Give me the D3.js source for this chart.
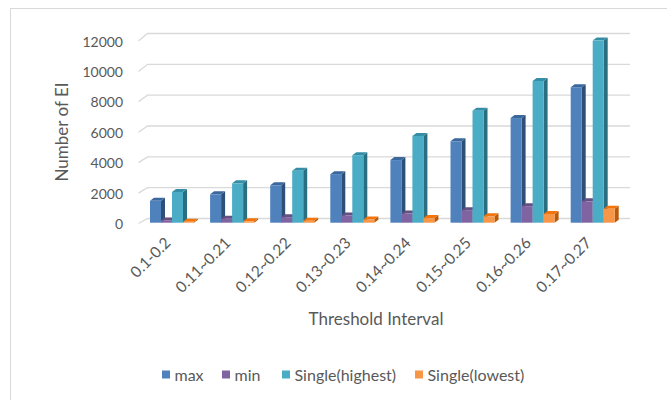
<!DOCTYPE html>
<html>
<head>
<meta charset="utf-8">
<script src="https://cdn.jsdelivr.net/npm/d3@7"></script>
<style>
  html, body { margin: 0; padding: 0; background: #fff; }
  svg { display: block; }
  text { font-family: Lato, "Open Sans", sans-serif; fill: #595959; }
</style>
</head>
<body>
<svg id="chart" width="667" height="400"></svg>
<script>
// Threshold intervals along the x axis
const categories = ["0.1-0.2", "0.11~0.21", "0.12~0.22", "0.13~0.23", "0.14~0.24", "0.15~0.25", "0.16~0.26", "0.17~0.27"];
const seriesNames = ["max", "min", "Single(highest)", "Single(lowest)"];
const maxValues = [1430, 1860, 2450, 3180, 4100, 5330, 6850, 8870];
const minValues = [150, 260, 360, 470, 600, 820, 1080, 1400];
const singleHighest = [2010, 2580, 3400, 4420, 5680, 7330, 9280, 11920];
const singleLowest = [60, 90, 120, 210, 300, 420, 570, 910];
const yTicks = [0, 2000, 4000, 6000, 8000, 10000, 12000];

const seriesValues = [maxValues, minValues, singleHighest, singleLowest];
const colors = ["#4F81BD", "#8064A2", "#4BACC6", "#F79646"];

const svg = d3.select("#chart");

// chart area border
svg.append("rect")
  .attr("x", 10.5).attr("y", 8.5)
  .attr("width", 700).attr("height", 420)
  .attr("fill", "none").attr("stroke", "#d9d9d9").attr("stroke-width", 1);

// scales: front face of the bars, left wall front edge, back wall
const yBar = d3.scaleLinear().domain([0, 12000]).range([222.7, 39.4]);
const yFront = d3.scaleLinear().domain([0, 12000]).range([223.5, 41]);
const yBack = d3.scaleLinear().domain([0, 12000]).range([218.5, 33.5]);
const xBand = d3.scaleBand().domain(categories).range([141.5, 622.3]).paddingInner(0).paddingOuter(0);
const xSeries = d3.scaleBand().domain(seriesNames).range([8.5, 52.5]);

const wallLeftFront = 138.5, wallLeftBack = 147.5, wallRight = 630;

// gridlines on back wall and left wall
const grid = svg.append("g");
yTicks.forEach(v => {
  grid.append("path")
    .attr("d", `M${wallLeftFront},${yFront(v)}L${wallLeftBack},${yBack(v)}L${wallRight},${yBack(v)}`)
    .attr("fill", "none").attr("stroke", "#d9d9d9").attr("stroke-width", 1.3);
});

// y tick labels
svg.append("g").selectAll("text").data(yTicks).join("text")
  .attr("x", 123).attr("y", v => yFront(v))
  .attr("text-anchor", "end").attr("dominant-baseline", "central")
  .attr("font-size", 14)
  .text(v => v);

// 3D columns
const dx = 4, dy = 3;
function shade(c, k) { const h = d3.hsl(c); h.l *= k; return h.formatHex(); }

const bars = svg.append("g");
categories.forEach((cat, i) => {
  seriesNames.forEach((s, j) => {
    const v = seriesValues[j][i];
    const x0 = xBand(cat) + xSeries(s);
    const w = xSeries.bandwidth();
    const yt = yBar(v), yb = yBar(0);
    const g = bars.append("g");
    // right side face
    g.append("path")
      .attr("d", `M${x0 + w},${yt}L${x0 + w + dx},${yt - dy}L${x0 + w + dx},${yb - dy}L${x0 + w},${yb}Z`)
      .attr("fill", shade(colors[j], 0.62));
    // top face
    g.append("path")
      .attr("d", `M${x0},${yt}L${x0 + dx},${yt - dy}L${x0 + w + dx},${yt - dy}L${x0 + w},${yt}Z`)
      .attr("fill", shade(colors[j], 0.8));
    // front face
    g.append("rect")
      .attr("x", x0).attr("y", yt)
      .attr("width", w).attr("height", yb - yt)
      .attr("fill", colors[j]);
  });
});

// x tick labels, rotated
svg.append("g").selectAll("text").data(categories).join("text")
  .attr("transform", d => `translate(${xBand(d) + xBand.bandwidth() / 2},${244}) rotate(-45)`)
  .attr("text-anchor", "end")
  .attr("font-size", 15.5)
  .text(d => d);

// axis titles
svg.append("text")
  .attr("transform", "translate(68,132) rotate(-90)")
  .attr("text-anchor", "middle")
  .attr("font-size", 17)
  .text("Number of EI");

svg.append("text")
  .attr("x", 376).attr("y", 325)
  .attr("text-anchor", "middle")
  .attr("font-size", 17)
  .text("Threshold Interval");

// legend
const legendX = [162, 222, 282, 415];
const legend = svg.append("g");
seriesNames.forEach((s, j) => {
  legend.append("rect")
    .attr("x", legendX[j]).attr("y", 370.5)
    .attr("width", 8).attr("height", 8)
    .attr("fill", colors[j]);
  legend.append("text")
    .attr("x", legendX[j] + 12.5).attr("y", 374.5)
    .attr("dominant-baseline", "central")
    .attr("font-size", 16)
    .text(s);
});
</script>
</body>
</html>
